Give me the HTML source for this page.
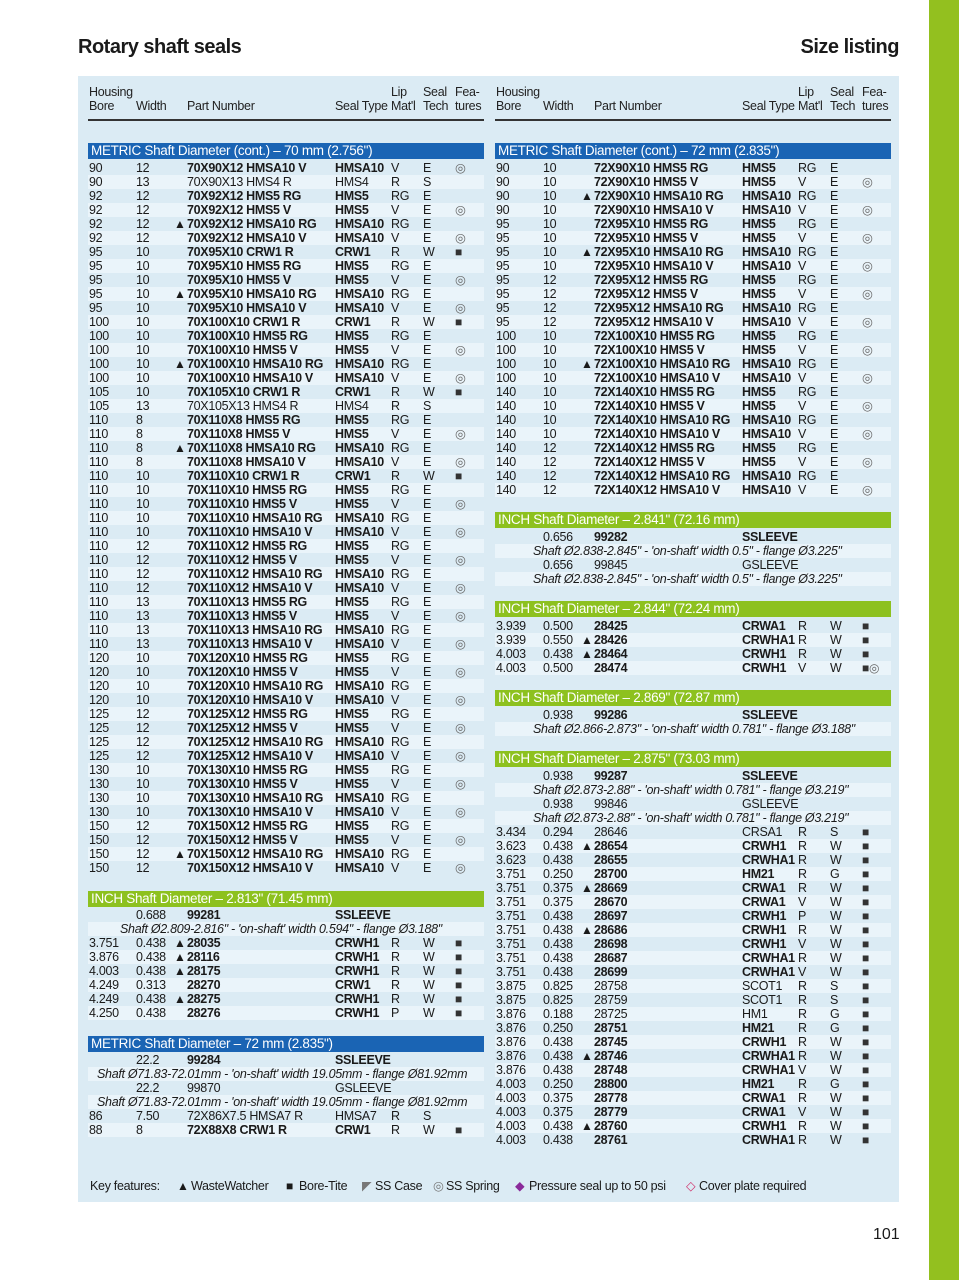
<!DOCTYPE html>
<html><head><meta charset="utf-8"><style>
body{margin:0;width:959px;height:1280px;background:#fff;position:relative;overflow:hidden;font-family:"Liberation Sans",sans-serif;color:#1a1a1a}
.gbar{position:absolute;left:929px;top:0;width:30px;height:1280px;background:#93c01f}
.title{position:absolute;top:36px;font-size:20px;font-weight:bold;letter-spacing:-0.5px}
.panel{position:absolute;left:78px;top:76px;width:821px;height:1126px;background:#dbebf4}
.col{position:absolute;top:0;left:0;width:420px;height:1280px;font-size:12.5px;letter-spacing:-0.3px}
.r{position:absolute;left:0;width:420px;height:14px;line-height:14px;white-space:nowrap}
.r span{position:absolute;top:0}
.z::before{content:"";position:absolute;left:88px;width:396px;top:0;height:14px;background:#eaf4fa}
.a{left:89px}.w{left:136px}.t{left:174px;font-size:12px}.p{left:187px}.s{left:335px}.l{left:391px}.e{left:423px}.f{left:455px;color:#666}
.b{font-weight:bold}
.sq{font-size:12px;color:#333}
.i{font-style:italic}
.hb{position:absolute;left:88px;width:396px;height:16px;line-height:16px;color:#fff;font-size:13.5px;padding-left:3px;box-sizing:border-box}
.blue{background:#1a64b4}.green{background:#8dc11f}
.hd{position:absolute;font-size:12.5px;line-height:14px;color:#222;letter-spacing:-0.3px}
.hl{position:absolute;top:119px;left:88px;width:396px;height:1.5px;background:#333}
.k{position:absolute;top:1178px;font-size:12.5px;letter-spacing:-0.3px;white-space:nowrap;line-height:16px}
</style></head><body>
<div class="gbar"></div>
<div class="title" style="left:78px">Rotary shaft seals</div>
<div class="title" style="right:60px">Size listing</div>
<div class="panel"></div>

<div class="col">
<div class="hd" style="left:89px;top:85px">Housing<br>Bore</div>
<div class="hd" style="left:136px;top:99px">Width</div>
<div class="hd" style="left:187px;top:99px">Part Number</div>
<div class="hd" style="left:335px;top:99px">Seal Type</div>
<div class="hd" style="left:391px;top:85px">Lip<br>Mat'l</div>
<div class="hd" style="left:423px;top:85px">Seal<br>Tech</div>
<div class="hd" style="left:455px;top:85px">Fea-<br>tures</div>
<div class="hl"></div>
<div class="hb blue" style="top:143px">METRIC Shaft Diameter (cont.) – 70 mm (2.756")</div>
<div class="r" style="top:161px"><span class=a>90</span><span class=w>12</span><span class="p b">70X90X12 HMSA10 V</span><span class="s b">HMSA10</span><span class=l>V</span><span class=e>E</span><span class=f>◎</span></div>
<div class="r z" style="top:175px"><span class=a>90</span><span class=w>13</span><span class="p">70X90X13 HMS4 R</span><span class="s">HMS4</span><span class=l>R</span><span class=e>S</span></div>
<div class="r" style="top:189px"><span class=a>92</span><span class=w>12</span><span class="p b">70X92X12 HMS5 RG</span><span class="s b">HMS5</span><span class=l>RG</span><span class=e>E</span></div>
<div class="r z" style="top:203px"><span class=a>92</span><span class=w>12</span><span class="p b">70X92X12 HMS5 V</span><span class="s b">HMS5</span><span class=l>V</span><span class=e>E</span><span class=f>◎</span></div>
<div class="r" style="top:217px"><span class=a>92</span><span class=w>12</span><span class=t>▲</span><span class="p b">70X92X12 HMSA10 RG</span><span class="s b">HMSA10</span><span class=l>RG</span><span class=e>E</span></div>
<div class="r z" style="top:231px"><span class=a>92</span><span class=w>12</span><span class="p b">70X92X12 HMSA10 V</span><span class="s b">HMSA10</span><span class=l>V</span><span class=e>E</span><span class=f>◎</span></div>
<div class="r" style="top:245px"><span class=a>95</span><span class=w>10</span><span class="p b">70X95X10 CRW1 R</span><span class="s b">CRW1</span><span class=l>R</span><span class=e>W</span><span class="f sq">■</span></div>
<div class="r z" style="top:259px"><span class=a>95</span><span class=w>10</span><span class="p b">70X95X10 HMS5 RG</span><span class="s b">HMS5</span><span class=l>RG</span><span class=e>E</span></div>
<div class="r" style="top:273px"><span class=a>95</span><span class=w>10</span><span class="p b">70X95X10 HMS5 V</span><span class="s b">HMS5</span><span class=l>V</span><span class=e>E</span><span class=f>◎</span></div>
<div class="r z" style="top:287px"><span class=a>95</span><span class=w>10</span><span class=t>▲</span><span class="p b">70X95X10 HMSA10 RG</span><span class="s b">HMSA10</span><span class=l>RG</span><span class=e>E</span></div>
<div class="r" style="top:301px"><span class=a>95</span><span class=w>10</span><span class="p b">70X95X10 HMSA10 V</span><span class="s b">HMSA10</span><span class=l>V</span><span class=e>E</span><span class=f>◎</span></div>
<div class="r z" style="top:315px"><span class=a>100</span><span class=w>10</span><span class="p b">70X100X10 CRW1 R</span><span class="s b">CRW1</span><span class=l>R</span><span class=e>W</span><span class="f sq">■</span></div>
<div class="r" style="top:329px"><span class=a>100</span><span class=w>10</span><span class="p b">70X100X10 HMS5 RG</span><span class="s b">HMS5</span><span class=l>RG</span><span class=e>E</span></div>
<div class="r z" style="top:343px"><span class=a>100</span><span class=w>10</span><span class="p b">70X100X10 HMS5 V</span><span class="s b">HMS5</span><span class=l>V</span><span class=e>E</span><span class=f>◎</span></div>
<div class="r" style="top:357px"><span class=a>100</span><span class=w>10</span><span class=t>▲</span><span class="p b">70X100X10 HMSA10 RG</span><span class="s b">HMSA10</span><span class=l>RG</span><span class=e>E</span></div>
<div class="r z" style="top:371px"><span class=a>100</span><span class=w>10</span><span class="p b">70X100X10 HMSA10 V</span><span class="s b">HMSA10</span><span class=l>V</span><span class=e>E</span><span class=f>◎</span></div>
<div class="r" style="top:385px"><span class=a>105</span><span class=w>10</span><span class="p b">70X105X10 CRW1 R</span><span class="s b">CRW1</span><span class=l>R</span><span class=e>W</span><span class="f sq">■</span></div>
<div class="r z" style="top:399px"><span class=a>105</span><span class=w>13</span><span class="p">70X105X13 HMS4 R</span><span class="s">HMS4</span><span class=l>R</span><span class=e>S</span></div>
<div class="r" style="top:413px"><span class=a>110</span><span class=w>8</span><span class="p b">70X110X8 HMS5 RG</span><span class="s b">HMS5</span><span class=l>RG</span><span class=e>E</span></div>
<div class="r z" style="top:427px"><span class=a>110</span><span class=w>8</span><span class="p b">70X110X8 HMS5 V</span><span class="s b">HMS5</span><span class=l>V</span><span class=e>E</span><span class=f>◎</span></div>
<div class="r" style="top:441px"><span class=a>110</span><span class=w>8</span><span class=t>▲</span><span class="p b">70X110X8 HMSA10 RG</span><span class="s b">HMSA10</span><span class=l>RG</span><span class=e>E</span></div>
<div class="r z" style="top:455px"><span class=a>110</span><span class=w>8</span><span class="p b">70X110X8 HMSA10 V</span><span class="s b">HMSA10</span><span class=l>V</span><span class=e>E</span><span class=f>◎</span></div>
<div class="r" style="top:469px"><span class=a>110</span><span class=w>10</span><span class="p b">70X110X10 CRW1 R</span><span class="s b">CRW1</span><span class=l>R</span><span class=e>W</span><span class="f sq">■</span></div>
<div class="r z" style="top:483px"><span class=a>110</span><span class=w>10</span><span class="p b">70X110X10 HMS5 RG</span><span class="s b">HMS5</span><span class=l>RG</span><span class=e>E</span></div>
<div class="r" style="top:497px"><span class=a>110</span><span class=w>10</span><span class="p b">70X110X10 HMS5 V</span><span class="s b">HMS5</span><span class=l>V</span><span class=e>E</span><span class=f>◎</span></div>
<div class="r z" style="top:511px"><span class=a>110</span><span class=w>10</span><span class="p b">70X110X10 HMSA10 RG</span><span class="s b">HMSA10</span><span class=l>RG</span><span class=e>E</span></div>
<div class="r" style="top:525px"><span class=a>110</span><span class=w>10</span><span class="p b">70X110X10 HMSA10 V</span><span class="s b">HMSA10</span><span class=l>V</span><span class=e>E</span><span class=f>◎</span></div>
<div class="r z" style="top:539px"><span class=a>110</span><span class=w>12</span><span class="p b">70X110X12 HMS5 RG</span><span class="s b">HMS5</span><span class=l>RG</span><span class=e>E</span></div>
<div class="r" style="top:553px"><span class=a>110</span><span class=w>12</span><span class="p b">70X110X12 HMS5 V</span><span class="s b">HMS5</span><span class=l>V</span><span class=e>E</span><span class=f>◎</span></div>
<div class="r z" style="top:567px"><span class=a>110</span><span class=w>12</span><span class="p b">70X110X12 HMSA10 RG</span><span class="s b">HMSA10</span><span class=l>RG</span><span class=e>E</span></div>
<div class="r" style="top:581px"><span class=a>110</span><span class=w>12</span><span class="p b">70X110X12 HMSA10 V</span><span class="s b">HMSA10</span><span class=l>V</span><span class=e>E</span><span class=f>◎</span></div>
<div class="r z" style="top:595px"><span class=a>110</span><span class=w>13</span><span class="p b">70X110X13 HMS5 RG</span><span class="s b">HMS5</span><span class=l>RG</span><span class=e>E</span></div>
<div class="r" style="top:609px"><span class=a>110</span><span class=w>13</span><span class="p b">70X110X13 HMS5 V</span><span class="s b">HMS5</span><span class=l>V</span><span class=e>E</span><span class=f>◎</span></div>
<div class="r z" style="top:623px"><span class=a>110</span><span class=w>13</span><span class="p b">70X110X13 HMSA10 RG</span><span class="s b">HMSA10</span><span class=l>RG</span><span class=e>E</span></div>
<div class="r" style="top:637px"><span class=a>110</span><span class=w>13</span><span class="p b">70X110X13 HMSA10 V</span><span class="s b">HMSA10</span><span class=l>V</span><span class=e>E</span><span class=f>◎</span></div>
<div class="r z" style="top:651px"><span class=a>120</span><span class=w>10</span><span class="p b">70X120X10 HMS5 RG</span><span class="s b">HMS5</span><span class=l>RG</span><span class=e>E</span></div>
<div class="r" style="top:665px"><span class=a>120</span><span class=w>10</span><span class="p b">70X120X10 HMS5 V</span><span class="s b">HMS5</span><span class=l>V</span><span class=e>E</span><span class=f>◎</span></div>
<div class="r z" style="top:679px"><span class=a>120</span><span class=w>10</span><span class="p b">70X120X10 HMSA10 RG</span><span class="s b">HMSA10</span><span class=l>RG</span><span class=e>E</span></div>
<div class="r" style="top:693px"><span class=a>120</span><span class=w>10</span><span class="p b">70X120X10 HMSA10 V</span><span class="s b">HMSA10</span><span class=l>V</span><span class=e>E</span><span class=f>◎</span></div>
<div class="r z" style="top:707px"><span class=a>125</span><span class=w>12</span><span class="p b">70X125X12 HMS5 RG</span><span class="s b">HMS5</span><span class=l>RG</span><span class=e>E</span></div>
<div class="r" style="top:721px"><span class=a>125</span><span class=w>12</span><span class="p b">70X125X12 HMS5 V</span><span class="s b">HMS5</span><span class=l>V</span><span class=e>E</span><span class=f>◎</span></div>
<div class="r z" style="top:735px"><span class=a>125</span><span class=w>12</span><span class="p b">70X125X12 HMSA10 RG</span><span class="s b">HMSA10</span><span class=l>RG</span><span class=e>E</span></div>
<div class="r" style="top:749px"><span class=a>125</span><span class=w>12</span><span class="p b">70X125X12 HMSA10 V</span><span class="s b">HMSA10</span><span class=l>V</span><span class=e>E</span><span class=f>◎</span></div>
<div class="r z" style="top:763px"><span class=a>130</span><span class=w>10</span><span class="p b">70X130X10 HMS5 RG</span><span class="s b">HMS5</span><span class=l>RG</span><span class=e>E</span></div>
<div class="r" style="top:777px"><span class=a>130</span><span class=w>10</span><span class="p b">70X130X10 HMS5 V</span><span class="s b">HMS5</span><span class=l>V</span><span class=e>E</span><span class=f>◎</span></div>
<div class="r z" style="top:791px"><span class=a>130</span><span class=w>10</span><span class="p b">70X130X10 HMSA10 RG</span><span class="s b">HMSA10</span><span class=l>RG</span><span class=e>E</span></div>
<div class="r" style="top:805px"><span class=a>130</span><span class=w>10</span><span class="p b">70X130X10 HMSA10 V</span><span class="s b">HMSA10</span><span class=l>V</span><span class=e>E</span><span class=f>◎</span></div>
<div class="r z" style="top:819px"><span class=a>150</span><span class=w>12</span><span class="p b">70X150X12 HMS5 RG</span><span class="s b">HMS5</span><span class=l>RG</span><span class=e>E</span></div>
<div class="r" style="top:833px"><span class=a>150</span><span class=w>12</span><span class="p b">70X150X12 HMS5 V</span><span class="s b">HMS5</span><span class=l>V</span><span class=e>E</span><span class=f>◎</span></div>
<div class="r z" style="top:847px"><span class=a>150</span><span class=w>12</span><span class=t>▲</span><span class="p b">70X150X12 HMSA10 RG</span><span class="s b">HMSA10</span><span class=l>RG</span><span class=e>E</span></div>
<div class="r" style="top:861px"><span class=a>150</span><span class=w>12</span><span class="p b">70X150X12 HMSA10 V</span><span class="s b">HMSA10</span><span class=l>V</span><span class=e>E</span><span class=f>◎</span></div>

<div class="hb green" style="top:891px">INCH Shaft Diameter – 2.813" (71.45 mm)</div>
<div class="r" style="top:908px"><span class=w>0.688</span><span class="p b">99281</span><span class="s b">SSLEEVE</span></div>
<div class="r z" style="top:922px"><span class="i" style="left:120px">Shaft Ø2.809-2.816" - 'on-shaft' width 0.594" - flange Ø3.188"</span></div>
<div class="r" style="top:936px"><span class=a>3.751</span><span class=w>0.438</span><span class=t>▲</span><span class="p b">28035</span><span class="s b">CRWH1</span><span class=l>R</span><span class=e>W</span><span class="f sq">■</span></div>
<div class="r z" style="top:950px"><span class=a>3.876</span><span class=w>0.438</span><span class=t>▲</span><span class="p b">28116</span><span class="s b">CRWH1</span><span class=l>R</span><span class=e>W</span><span class="f sq">■</span></div>
<div class="r" style="top:964px"><span class=a>4.003</span><span class=w>0.438</span><span class=t>▲</span><span class="p b">28175</span><span class="s b">CRWH1</span><span class=l>R</span><span class=e>W</span><span class="f sq">■</span></div>
<div class="r z" style="top:978px"><span class=a>4.249</span><span class=w>0.313</span><span class="p b">28270</span><span class="s b">CRW1</span><span class=l>R</span><span class=e>W</span><span class="f sq">■</span></div>
<div class="r" style="top:992px"><span class=a>4.249</span><span class=w>0.438</span><span class=t>▲</span><span class="p b">28275</span><span class="s b">CRWH1</span><span class=l>R</span><span class=e>W</span><span class="f sq">■</span></div>
<div class="r z" style="top:1006px"><span class=a>4.250</span><span class=w>0.438</span><span class="p b">28276</span><span class="s b">CRWH1</span><span class=l>P</span><span class=e>W</span><span class="f sq">■</span></div>

<div class="hb blue" style="top:1036px">METRIC Shaft Diameter – 72 mm (2.835")</div>
<div class="r" style="top:1053px"><span class=w>22.2</span><span class="p b">99284</span><span class="s b">SSLEEVE</span></div>
<div class="r z" style="top:1067px"><span class="i" style="left:97px">Shaft Ø71.83-72.01mm - 'on-shaft' width 19.05mm - flange Ø81.92mm</span></div>
<div class="r" style="top:1081px"><span class=w>22.2</span><span class="p">99870</span><span class="s">GSLEEVE</span></div>
<div class="r z" style="top:1095px"><span class="i" style="left:97px">Shaft Ø71.83-72.01mm - 'on-shaft' width 19.05mm - flange Ø81.92mm</span></div>
<div class="r" style="top:1109px"><span class=a>86</span><span class=w>7.50</span><span class="p">72X86X7.5 HMSA7 R</span><span class="s">HMSA7</span><span class=l>R</span><span class=e>S</span></div>
<div class="r z" style="top:1123px"><span class=a>88</span><span class=w>8</span><span class="p b">72X88X8 CRW1 R</span><span class="s b">CRW1</span><span class=l>R</span><span class=e>W</span><span class="f sq">■</span></div>
</div>

<div class="col" style="left:407px">
<div class="hd" style="left:89px;top:85px">Housing<br>Bore</div>
<div class="hd" style="left:136px;top:99px">Width</div>
<div class="hd" style="left:187px;top:99px">Part Number</div>
<div class="hd" style="left:335px;top:99px">Seal Type</div>
<div class="hd" style="left:391px;top:85px">Lip<br>Mat'l</div>
<div class="hd" style="left:423px;top:85px">Seal<br>Tech</div>
<div class="hd" style="left:455px;top:85px">Fea-<br>tures</div>
<div class="hl"></div>
<div class="hb blue" style="top:143px">METRIC Shaft Diameter (cont.) – 72 mm (2.835")</div>
<div class="r" style="top:161px"><span class=a>90</span><span class=w>10</span><span class="p b">72X90X10 HMS5 RG</span><span class="s b">HMS5</span><span class=l>RG</span><span class=e>E</span></div>
<div class="r z" style="top:175px"><span class=a>90</span><span class=w>10</span><span class="p b">72X90X10 HMS5 V</span><span class="s b">HMS5</span><span class=l>V</span><span class=e>E</span><span class=f>◎</span></div>
<div class="r" style="top:189px"><span class=a>90</span><span class=w>10</span><span class=t>▲</span><span class="p b">72X90X10 HMSA10 RG</span><span class="s b">HMSA10</span><span class=l>RG</span><span class=e>E</span></div>
<div class="r z" style="top:203px"><span class=a>90</span><span class=w>10</span><span class="p b">72X90X10 HMSA10 V</span><span class="s b">HMSA10</span><span class=l>V</span><span class=e>E</span><span class=f>◎</span></div>
<div class="r" style="top:217px"><span class=a>95</span><span class=w>10</span><span class="p b">72X95X10 HMS5 RG</span><span class="s b">HMS5</span><span class=l>RG</span><span class=e>E</span></div>
<div class="r z" style="top:231px"><span class=a>95</span><span class=w>10</span><span class="p b">72X95X10 HMS5 V</span><span class="s b">HMS5</span><span class=l>V</span><span class=e>E</span><span class=f>◎</span></div>
<div class="r" style="top:245px"><span class=a>95</span><span class=w>10</span><span class=t>▲</span><span class="p b">72X95X10 HMSA10 RG</span><span class="s b">HMSA10</span><span class=l>RG</span><span class=e>E</span></div>
<div class="r z" style="top:259px"><span class=a>95</span><span class=w>10</span><span class="p b">72X95X10 HMSA10 V</span><span class="s b">HMSA10</span><span class=l>V</span><span class=e>E</span><span class=f>◎</span></div>
<div class="r" style="top:273px"><span class=a>95</span><span class=w>12</span><span class="p b">72X95X12 HMS5 RG</span><span class="s b">HMS5</span><span class=l>RG</span><span class=e>E</span></div>
<div class="r z" style="top:287px"><span class=a>95</span><span class=w>12</span><span class="p b">72X95X12 HMS5 V</span><span class="s b">HMS5</span><span class=l>V</span><span class=e>E</span><span class=f>◎</span></div>
<div class="r" style="top:301px"><span class=a>95</span><span class=w>12</span><span class="p b">72X95X12 HMSA10 RG</span><span class="s b">HMSA10</span><span class=l>RG</span><span class=e>E</span></div>
<div class="r z" style="top:315px"><span class=a>95</span><span class=w>12</span><span class="p b">72X95X12 HMSA10 V</span><span class="s b">HMSA10</span><span class=l>V</span><span class=e>E</span><span class=f>◎</span></div>
<div class="r" style="top:329px"><span class=a>100</span><span class=w>10</span><span class="p b">72X100X10 HMS5 RG</span><span class="s b">HMS5</span><span class=l>RG</span><span class=e>E</span></div>
<div class="r z" style="top:343px"><span class=a>100</span><span class=w>10</span><span class="p b">72X100X10 HMS5 V</span><span class="s b">HMS5</span><span class=l>V</span><span class=e>E</span><span class=f>◎</span></div>
<div class="r" style="top:357px"><span class=a>100</span><span class=w>10</span><span class=t>▲</span><span class="p b">72X100X10 HMSA10 RG</span><span class="s b">HMSA10</span><span class=l>RG</span><span class=e>E</span></div>
<div class="r z" style="top:371px"><span class=a>100</span><span class=w>10</span><span class="p b">72X100X10 HMSA10 V</span><span class="s b">HMSA10</span><span class=l>V</span><span class=e>E</span><span class=f>◎</span></div>
<div class="r" style="top:385px"><span class=a>140</span><span class=w>10</span><span class="p b">72X140X10 HMS5 RG</span><span class="s b">HMS5</span><span class=l>RG</span><span class=e>E</span></div>
<div class="r z" style="top:399px"><span class=a>140</span><span class=w>10</span><span class="p b">72X140X10 HMS5 V</span><span class="s b">HMS5</span><span class=l>V</span><span class=e>E</span><span class=f>◎</span></div>
<div class="r" style="top:413px"><span class=a>140</span><span class=w>10</span><span class="p b">72X140X10 HMSA10 RG</span><span class="s b">HMSA10</span><span class=l>RG</span><span class=e>E</span></div>
<div class="r z" style="top:427px"><span class=a>140</span><span class=w>10</span><span class="p b">72X140X10 HMSA10 V</span><span class="s b">HMSA10</span><span class=l>V</span><span class=e>E</span><span class=f>◎</span></div>
<div class="r" style="top:441px"><span class=a>140</span><span class=w>12</span><span class="p b">72X140X12 HMS5 RG</span><span class="s b">HMS5</span><span class=l>RG</span><span class=e>E</span></div>
<div class="r z" style="top:455px"><span class=a>140</span><span class=w>12</span><span class="p b">72X140X12 HMS5 V</span><span class="s b">HMS5</span><span class=l>V</span><span class=e>E</span><span class=f>◎</span></div>
<div class="r" style="top:469px"><span class=a>140</span><span class=w>12</span><span class="p b">72X140X12 HMSA10 RG</span><span class="s b">HMSA10</span><span class=l>RG</span><span class=e>E</span></div>
<div class="r z" style="top:483px"><span class=a>140</span><span class=w>12</span><span class="p b">72X140X12 HMSA10 V</span><span class="s b">HMSA10</span><span class=l>V</span><span class=e>E</span><span class=f>◎</span></div>

<div class="hb green" style="top:512px">INCH Shaft Diameter – 2.841" (72.16 mm)</div>
<div class="r" style="top:530px"><span class=w>0.656</span><span class="p b">99282</span><span class="s b">SSLEEVE</span></div>
<div class="r z" style="top:544px"><span class="i" style="left:126px">Shaft Ø2.838-2.845" - 'on-shaft' width 0.5" - flange Ø3.225"</span></div>
<div class="r" style="top:558px"><span class=w>0.656</span><span class="p">99845</span><span class="s">GSLEEVE</span></div>
<div class="r z" style="top:572px"><span class="i" style="left:126px">Shaft Ø2.838-2.845" - 'on-shaft' width 0.5" - flange Ø3.225"</span></div>

<div class="hb green" style="top:601px">INCH Shaft Diameter – 2.844" (72.24 mm)</div>
<div class="r" style="top:619px"><span class=a>3.939</span><span class=w>0.500</span><span class="p b">28425</span><span class="s b">CRWA1</span><span class=l>R</span><span class=e>W</span><span class="f sq">■</span></div>
<div class="r z" style="top:633px"><span class=a>3.939</span><span class=w>0.550</span><span class=t>▲</span><span class="p b">28426</span><span class="s b">CRWHA1</span><span class=l>R</span><span class=e>W</span><span class="f sq">■</span></div>
<div class="r" style="top:647px"><span class=a>4.003</span><span class=w>0.438</span><span class=t>▲</span><span class="p b">28464</span><span class="s b">CRWH1</span><span class=l>R</span><span class=e>W</span><span class="f sq">■</span></div>
<div class="r z" style="top:661px"><span class=a>4.003</span><span class=w>0.500</span><span class="p b">28474</span><span class="s b">CRWH1</span><span class=l>V</span><span class=e>W</span><span class="f sq">■<span style="position:static;font-size:12px;color:#666">◎</span></span></div>

<div class="hb green" style="top:690px">INCH Shaft Diameter – 2.869" (72.87 mm)</div>
<div class="r" style="top:708px"><span class=w>0.938</span><span class="p b">99286</span><span class="s b">SSLEEVE</span></div>
<div class="r z" style="top:722px"><span class="i" style="left:126px">Shaft Ø2.866-2.873" - 'on-shaft' width 0.781" - flange Ø3.188"</span></div>

<div class="hb green" style="top:751px">INCH Shaft Diameter – 2.875" (73.03 mm)</div>
<div class="r" style="top:769px"><span class=w>0.938</span><span class="p b">99287</span><span class="s b">SSLEEVE</span></div>
<div class="r z" style="top:783px"><span class="i" style="left:126px">Shaft Ø2.873-2.88" - 'on-shaft' width 0.781" - flange Ø3.219"</span></div>
<div class="r" style="top:797px"><span class=w>0.938</span><span class="p">99846</span><span class="s">GSLEEVE</span></div>
<div class="r z" style="top:811px"><span class="i" style="left:126px">Shaft Ø2.873-2.88" - 'on-shaft' width 0.781" - flange Ø3.219"</span></div>
<div class="r" style="top:825px"><span class=a>3.434</span><span class=w>0.294</span><span class="p">28646</span><span class="s">CRSA1</span><span class=l>R</span><span class=e>S</span><span class="f sq">■</span></div>
<div class="r z" style="top:839px"><span class=a>3.623</span><span class=w>0.438</span><span class=t>▲</span><span class="p b">28654</span><span class="s b">CRWH1</span><span class=l>R</span><span class=e>W</span><span class="f sq">■</span></div>
<div class="r" style="top:853px"><span class=a>3.623</span><span class=w>0.438</span><span class="p b">28655</span><span class="s b">CRWHA1</span><span class=l>R</span><span class=e>W</span><span class="f sq">■</span></div>
<div class="r z" style="top:867px"><span class=a>3.751</span><span class=w>0.250</span><span class="p b">28700</span><span class="s b">HM21</span><span class=l>R</span><span class=e>G</span><span class="f sq">■</span></div>
<div class="r" style="top:881px"><span class=a>3.751</span><span class=w>0.375</span><span class=t>▲</span><span class="p b">28669</span><span class="s b">CRWA1</span><span class=l>R</span><span class=e>W</span><span class="f sq">■</span></div>
<div class="r z" style="top:895px"><span class=a>3.751</span><span class=w>0.375</span><span class="p b">28670</span><span class="s b">CRWA1</span><span class=l>V</span><span class=e>W</span><span class="f sq">■</span></div>
<div class="r" style="top:909px"><span class=a>3.751</span><span class=w>0.438</span><span class="p b">28697</span><span class="s b">CRWH1</span><span class=l>P</span><span class=e>W</span><span class="f sq">■</span></div>
<div class="r z" style="top:923px"><span class=a>3.751</span><span class=w>0.438</span><span class=t>▲</span><span class="p b">28686</span><span class="s b">CRWH1</span><span class=l>R</span><span class=e>W</span><span class="f sq">■</span></div>
<div class="r" style="top:937px"><span class=a>3.751</span><span class=w>0.438</span><span class="p b">28698</span><span class="s b">CRWH1</span><span class=l>V</span><span class=e>W</span><span class="f sq">■</span></div>
<div class="r z" style="top:951px"><span class=a>3.751</span><span class=w>0.438</span><span class="p b">28687</span><span class="s b">CRWHA1</span><span class=l>R</span><span class=e>W</span><span class="f sq">■</span></div>
<div class="r" style="top:965px"><span class=a>3.751</span><span class=w>0.438</span><span class="p b">28699</span><span class="s b">CRWHA1</span><span class=l>V</span><span class=e>W</span><span class="f sq">■</span></div>
<div class="r z" style="top:979px"><span class=a>3.875</span><span class=w>0.825</span><span class="p">28758</span><span class="s">SCOT1</span><span class=l>R</span><span class=e>S</span><span class="f sq">■</span></div>
<div class="r" style="top:993px"><span class=a>3.875</span><span class=w>0.825</span><span class="p">28759</span><span class="s">SCOT1</span><span class=l>R</span><span class=e>S</span><span class="f sq">■</span></div>
<div class="r z" style="top:1007px"><span class=a>3.876</span><span class=w>0.188</span><span class="p">28725</span><span class="s">HM1</span><span class=l>R</span><span class=e>G</span><span class="f sq">■</span></div>
<div class="r" style="top:1021px"><span class=a>3.876</span><span class=w>0.250</span><span class="p b">28751</span><span class="s b">HM21</span><span class=l>R</span><span class=e>G</span><span class="f sq">■</span></div>
<div class="r z" style="top:1035px"><span class=a>3.876</span><span class=w>0.438</span><span class="p b">28745</span><span class="s b">CRWH1</span><span class=l>R</span><span class=e>W</span><span class="f sq">■</span></div>
<div class="r" style="top:1049px"><span class=a>3.876</span><span class=w>0.438</span><span class=t>▲</span><span class="p b">28746</span><span class="s b">CRWHA1</span><span class=l>R</span><span class=e>W</span><span class="f sq">■</span></div>
<div class="r z" style="top:1063px"><span class=a>3.876</span><span class=w>0.438</span><span class="p b">28748</span><span class="s b">CRWHA1</span><span class=l>V</span><span class=e>W</span><span class="f sq">■</span></div>
<div class="r" style="top:1077px"><span class=a>4.003</span><span class=w>0.250</span><span class="p b">28800</span><span class="s b">HM21</span><span class=l>R</span><span class=e>G</span><span class="f sq">■</span></div>
<div class="r z" style="top:1091px"><span class=a>4.003</span><span class=w>0.375</span><span class="p b">28778</span><span class="s b">CRWA1</span><span class=l>R</span><span class=e>W</span><span class="f sq">■</span></div>
<div class="r" style="top:1105px"><span class=a>4.003</span><span class=w>0.375</span><span class="p b">28779</span><span class="s b">CRWA1</span><span class=l>V</span><span class=e>W</span><span class="f sq">■</span></div>
<div class="r z" style="top:1119px"><span class=a>4.003</span><span class=w>0.438</span><span class=t>▲</span><span class="p b">28760</span><span class="s b">CRWH1</span><span class=l>R</span><span class=e>W</span><span class="f sq">■</span></div>
<div class="r" style="top:1133px"><span class=a>4.003</span><span class=w>0.438</span><span class="p b">28761</span><span class="s b">CRWHA1</span><span class=l>R</span><span class=e>W</span><span class="f sq">■</span></div>
</div>

<div class="k" style="left:90px">Key features:</div>
<div class="k" style="left:177px;font-size:12px">▲</div>
<div class="k" style="left:191px">WasteWatcher</div>
<div class="k" style="left:286px;font-size:12px">■</div>
<div class="k" style="left:299px">Bore-Tite</div>
<div class="k" style="left:362px;color:#777">◤</div>
<div class="k" style="left:375px">SS Case</div>
<div class="k" style="left:433px;color:#777">◎</div>
<div class="k" style="left:446px">SS Spring</div>
<div class="k" style="left:515px;color:#8a2a9a">◆</div>
<div class="k" style="left:529px">Pressure seal up to 50 psi</div>
<div class="k" style="left:686px;color:#d0306a">◇</div>
<div class="k" style="left:699px">Cover plate required</div>
<div style="position:absolute;left:873px;top:1226px;font-size:16px">101</div>
</body></html>
